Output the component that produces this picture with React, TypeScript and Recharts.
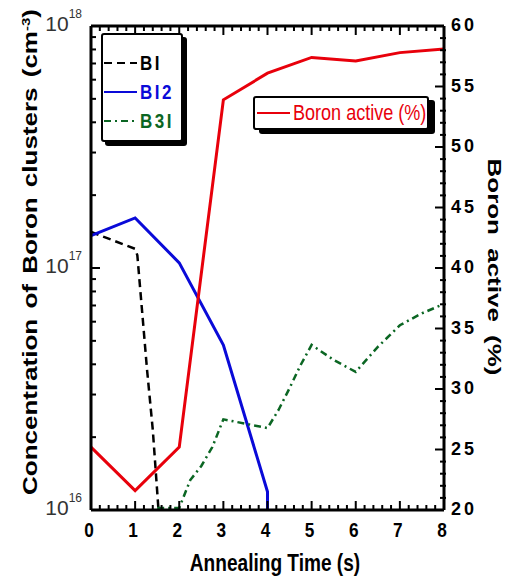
import { Line, LineChart, XAxis, YAxis } from 'recharts';

// annealing time (s) / concentration (cm^-3)
const biTime = [0, 1, 1.05, 1.15, 1.27, 1.4, 1.53];
const biConc = [1.41e17, 1.2e17, 1.13e17, 6.9e16, 3.8e16, 2.15e16, 1e16];

const bi2Time = [0, 1, 2, 3, 4, 4];
const bi2Conc = [1.36e17, 1.61e17, 1.05e17, 4.8e16, 1.19e16, 1e16];

const b3iTime = [1.5, 2, 2.25, 2.5, 2.75, 3, 4, 4.25, 4.5, 4.75, 5, 5.5, 6, 6.5, 7, 7.5, 8];
const b3iConc = [
  1.02e16, 1.02e16, 1.33e16, 1.52e16, 1.82e16, 2.37e16, 2.18e16, 2.59e16, 3.19e16, 3.97e16, 4.81e16,
  4.17e16, 3.72e16, 4.72e16, 5.8e16, 6.5e16, 7.1e16,
];

// boron active (%)
const activeTime = [0, 1, 2, 3, 4, 5, 6, 7, 8];
const activePct = [25.2, 21.6, 25.2, 53.9, 56.1, 57.4, 57.1, 57.8, 58.1];

const xMax = 8;
const xTicks = Array.from({ length: xMax * 5 + 1 }, (_, i) => i / 5);
const decades = [1e16, 1e17];
const mantissas = [1, 2, 3, 4, 5, 6, 7, 8, 9];
const concTicks = [...decades.flatMap((d) => mantissas.map((m) => m * d)), 1e18];
const pctTicks = Array.from({ length: 41 }, (_, i) => 20 + i);

const FONT = '"Liberation Sans", Arial, sans-serif';

// plot box (chart margins + axis sizes below)
const W = 508;
const H = 579;
const PLOT = { left: 91, right: 444, top: 26, bottom: 510 };

const zip = (t: number[], v: number[]) => t.map((x, i) => ({ t: x, v: v[i] }));

const series = [
  { name: 'BI', color: '#000000', dash: '8 5', width: 2.5, data: zip(biTime, biConc) },
  { name: 'BI2', color: '#0a0ad8', dash: undefined, width: 3, data: zip(bi2Time, bi2Conc) },
  { name: 'B3I', color: '#0b6623', dash: '7 4 2 4', width: 2.5, data: zip(b3iTime, b3iConc) },
];
const activeSeries = { name: 'Boron active (%)', color: '#e8000b', data: zip(activeTime, activePct) };

const isDecade = (v: number) => {
  const e = Math.round(Math.log10(v));
  return Math.abs(v - 10 ** e) < v * 1e-6;
};

function BottomTick({ x, y, payload }: any) {
  if (!Number.isInteger(payload.value)) return <g />;
  return (
    <text
      transform={`translate(${x - 2},${y + 27}) scale(0.82,1)`}
      textAnchor="middle"
      fontSize={21}
      fontWeight="bold"
      fontFamily={FONT}
      fill="#000"
    >
      {payload.value}
    </text>
  );
}

function LeftTick({ x, y, payload }: any) {
  if (!isDecade(payload.value)) return <g />;
  return (
    <text x={x - 9} y={y + 5} textAnchor="end" fontSize={21} fontFamily={FONT} fill="#333">
      <tspan>10</tspan>
      <tspan dy={-13} fontSize={12}>
        {Math.round(Math.log10(payload.value))}
      </tspan>
    </text>
  );
}

function RightTick({ x, y, payload }: any) {
  if (payload.value % 5 !== 0) return <g />;
  return (
    <text x={x + 7} y={y + 5} fontSize={18} fontWeight="bold" letterSpacing={3} fontFamily={FONT} fill="#000">
      {payload.value}
    </text>
  );
}

const axisLine = { stroke: '#000', strokeWidth: 3 };

// inward tick marks on all four sides, same linear / log mapping as the axes
function FrameTicks() {
  const px = (t: number) => PLOT.left + (t / xMax) * (PLOT.right - PLOT.left);
  const pyLog = (v: number) => PLOT.bottom - ((Math.log10(v) - 16) / 2) * (PLOT.bottom - PLOT.top);
  const pyPct = (p: number) => PLOT.bottom - ((p - 20) / 40) * (PLOT.bottom - PLOT.top);
  return (
    <g fill="#000">
      {xTicks.map((t) => {
        const len = Number.isInteger(t) ? 9 : 5;
        return (
          <g key={`x${t}`}>
            <rect x={px(t) - 1} y={PLOT.bottom - len} width={2} height={len} />
            <rect x={px(t) - 1} y={PLOT.top} width={2} height={len} />
          </g>
        );
      })}
      {concTicks.map((v) => {
        const len = isDecade(v) ? 9 : 5;
        return <rect key={`c${v}`} x={PLOT.left} y={pyLog(v) - 1} width={len} height={2} />;
      })}
      {pctTicks.map((p) =>
        p % 5 === 0 ? (
          <rect key={`p${p}`} x={PLOT.right - 9} y={pyPct(p) - 1} width={9} height={2} />
        ) : (
          <rect key={`p${p}`} x={PLOT.right - 4} y={pyPct(p) - 1} width={6} height={2} />
        )
      )}
    </g>
  );
}

function Overlay() {
  return (
    <svg width={W} height={H} style={{ position: 'absolute', left: 0, top: 0, pointerEvents: 'none' }}>
      <FrameTicks />
      <g fontFamily={FONT} fontWeight="bold" fill="#000">
        <text transform="translate(275,571) scale(0.83,1)" textAnchor="middle" fontSize={23}>
          Annealing Time (s)
        </text>
        <text transform="translate(37,252) rotate(-90) scale(1,0.75)" textAnchor="middle" fontSize={26} wordSpacing={3}>
          Concentration of Boron clusters (cm
          <tspan dy={-10} fontSize={15}>
            -3
          </tspan>
          <tspan dy={10}>)</tspan>
        </text>
        <text transform="translate(488,267) rotate(90) scale(1,0.72)" textAnchor="middle" fontSize={26} wordSpacing={6}>
          Boron active (%)
        </text>
      </g>
    </svg>
  );
}

function Sample({ color, dash, width }: { color: string; dash?: string; width: number }) {
  return (
    <svg width={33} height={6} style={{ display: 'block' }}>
      <line x1={0} y1={3} x2={33} y2={3} stroke={color} strokeWidth={width} strokeDasharray={dash} />
    </svg>
  );
}

export default function App() {
  return (
    <div style={{ position: 'absolute', left: 0, top: 0, width: W, height: H, background: '#fff', fontFamily: FONT }}>
      <LineChart width={W} height={H} margin={{ top: PLOT.top - 1, right: 0, bottom: 0, left: 0 }}>
        <XAxis
          dataKey="t"
          type="number"
          domain={[0, xMax]}
          ticks={xTicks}
          interval={0}
          height={H - PLOT.bottom}
          tickSize={0}
          tickMargin={0}
          tick={BottomTick}
          axisLine={axisLine}
        />
        <XAxis
          xAxisId="top"
          orientation="top"
          dataKey="t"
          type="number"
          domain={[0, xMax]}
          ticks={[0, xMax]}
          height={1}
          tick={false}
          tickLine={false}
          axisLine={axisLine}
        />
        <YAxis
          yAxisId="conc"
          scale="log"
          domain={[1e16, 1e18]}
          allowDataOverflow
          ticks={concTicks}
          interval={0}
          width={PLOT.left}
          tickSize={0}
          tickMargin={0}
          tick={LeftTick}
          axisLine={axisLine}
        />
        <YAxis
          yAxisId="pct"
          orientation="right"
          domain={[20, 60]}
          ticks={pctTicks}
          interval={0}
          width={W - PLOT.right}
          tickSize={0}
          tickMargin={0}
          tick={RightTick}
          axisLine={axisLine}
        />
        {series.map((s) => (
          <Line
            key={s.name}
            yAxisId="conc"
            data={s.data}
            dataKey="v"
            type="linear"
            stroke={s.color}
            strokeWidth={s.width}
            strokeDasharray={s.dash}
            dot={false}
            activeDot={false}
            isAnimationActive={false}
          />
        ))}
        <Line
          yAxisId="pct"
          data={activeSeries.data}
          dataKey="v"
          type="linear"
          stroke={activeSeries.color}
          strokeWidth={3}
          dot={false}
          activeDot={false}
          isAnimationActive={false}
        />
      </LineChart>

      <Overlay />

      <div
        style={{
          position: 'absolute',
          left: 101,
          top: 33,
          width: 82,
          height: 109,
          boxSizing: 'border-box',
          border: '2px solid #000',
          borderRadius: 3,
          boxShadow: '4px 4px 0 #000',
          background: '#fff',
        }}
      >
        {series.map((s, i) => (
          <div key={s.name} style={{ position: 'absolute', left: 1, top: 18 + i * 29, height: 20, display: 'flex', alignItems: 'center' }}>
            <Sample color={s.color} dash={s.dash} width={2} />
            <span
              style={{
                display: 'inline-block',
                marginLeft: 3,
                color: s.color,
                fontSize: 20,
                fontWeight: 'bold',
                letterSpacing: 3,
                lineHeight: '20px',
                transform: 'scaleX(0.85)',
                transformOrigin: 'left center',
              }}
            >
              {s.name}
            </span>
          </div>
        ))}
      </div>

      <div
        style={{
          position: 'absolute',
          left: 253,
          top: 96,
          width: 176,
          height: 34,
          boxSizing: 'border-box',
          border: '2px solid #000',
          borderRadius: 3,
          boxShadow: '6px 4px 0 #000',
          background: '#fff',
        }}
      >
        <div style={{ position: 'absolute', left: 2, top: 4, height: 22, display: 'flex', alignItems: 'center' }}>
          <Sample color={activeSeries.color} width={2} />
          <span
            style={{
              display: 'inline-block',
              marginLeft: 3,
              color: activeSeries.color,
              fontSize: 22,
              lineHeight: '22px',
              whiteSpace: 'nowrap',
              transform: 'scaleX(0.82)',
              transformOrigin: 'left center',
            }}
          >
            {activeSeries.name}
          </span>
        </div>
      </div>
    </div>
  );
}
